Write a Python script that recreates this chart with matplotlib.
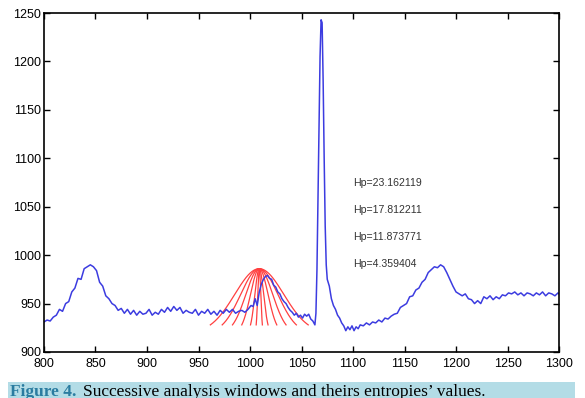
import numpy as np
import matplotlib
matplotlib.use("Agg")
import matplotlib.pyplot as plt

# blue signal
sig_x = [800, 803, 806, 809, 812, 815, 818, 821, 824, 827, 830, 833, 836, 839, 842, 845, 848, 851,
         854, 857, 860, 863, 866, 869, 872, 875, 878, 881, 884, 887, 890, 893, 896, 899, 902, 905,
         908, 911, 914, 917, 920, 923, 926, 929, 932, 935, 938, 941, 944, 947, 950, 953, 956, 959,
         962, 965, 968, 971, 974, 977, 980, 983, 986, 989, 992, 995, 998, 1001, 1003, 1005, 1007,
         1009, 1011, 1013, 1015, 1017, 1019, 1021, 1023, 1025, 1027, 1029, 1031, 1033, 1035, 1037,
         1039, 1041, 1043, 1045, 1047, 1049, 1051, 1053, 1055, 1057, 1059, 1061, 1063, 1064, 1065,
         1066, 1067, 1068, 1069, 1070, 1071, 1072, 1073, 1074, 1075, 1077, 1079, 1081, 1083, 1085,
         1087, 1089, 1091, 1093, 1095, 1097, 1099, 1101, 1103, 1105, 1107, 1110, 1113, 1116, 1119,
         1122, 1125, 1128, 1131, 1134, 1137, 1140, 1143, 1146, 1149, 1152, 1155, 1158, 1161, 1164,
         1167, 1170, 1173, 1176, 1179, 1182, 1185, 1188, 1191, 1194, 1197, 1200, 1203, 1206, 1209,
         1212, 1215, 1218, 1221, 1224, 1227, 1230, 1233, 1236, 1239, 1242, 1245, 1248, 1251, 1254,
         1257, 1260, 1263, 1266, 1269, 1272, 1275, 1278, 1281, 1284, 1287, 1290, 1293, 1296, 1299,
         1300]
sig_y = [931, 933, 932, 936, 938, 944, 942, 950, 952, 962, 966, 976, 975, 986, 988, 990, 988, 984,
         972, 968, 958, 955, 950, 948, 943, 945, 940, 944, 939, 943, 938, 942, 939, 940, 944, 938,
         941, 939, 944, 941, 946, 942, 947, 943, 946, 940, 943, 941, 940, 944, 938, 942, 940, 944,
         939, 942, 938, 943, 940, 944, 941, 944, 940, 942, 943, 941, 944, 948, 947, 955, 948,
         962, 970, 975, 978, 979, 976, 975, 969, 967, 962, 960, 955, 952, 950, 946,
         943, 941, 938, 940, 936, 938, 935, 939, 937, 939, 934, 932, 928, 940, 985,
         1060, 1140, 1205, 1243, 1240, 1180, 1100, 1030, 990, 975, 968, 955, 948, 944, 938,
         935, 930, 927, 922, 926, 923, 927, 922, 926, 924, 928, 927, 930, 928, 931,
         930, 933, 931, 935, 934, 937, 939, 940, 946, 948, 950, 957, 958, 964, 966,
         972, 975, 982, 985, 988, 987, 990, 988, 982, 975, 968, 962, 960, 958, 960,
         955, 954, 950, 953, 950, 957, 955, 958, 954, 957, 955, 959, 958, 961, 960,
         962, 959, 961, 958, 961, 960, 958, 961, 959, 962, 958, 961, 960, 958, 961,
         960]

# gaussian analysis windows (same centre, shrinking width)
win_center = 1009
win_half_widths = [47.5, 36, 26, 17, 8.5, 3]
win_base = 928
win_peak = 986

hp_labels = ["Hp=23.162119", "Hp=17.812211", "Hp=11.873771", "Hp=4.359404"]
hp_y = [1074.5, 1046.6, 1018.8, 990.9]
hp_x = 1100

plt.rcParams["font.family"] = ["Liberation Sans", "DejaVu Sans"]

fig = plt.figure(figsize=(5.85, 3.98), dpi=100)
ax = fig.add_axes([0.0752, 0.1156, 0.8804, 0.8517])

for hw in win_half_widths:
    t = np.linspace(-hw, hw, 200)
    sigma = hw / 2.0
    g = np.exp(-0.5 * (t / sigma) ** 2)
    g0 = np.exp(-0.5 * (hw / sigma) ** 2)
    g = (g - g0) / (1 - g0)
    ax.plot(win_center + t, win_base + (win_peak - win_base) * g, color="#ff4040", lw=0.9)

ax.plot(sig_x, sig_y, color="#3c3ce0", lw=1.1)

for lab, yy in zip(hp_labels, hp_y):
    ax.text(hp_x, yy, lab, fontsize=7.6, color="#333333", va="center", ha="left")

ax.set_xlim(800, 1300)
ax.set_ylim(900, 1250)
ax.set_xticks(range(800, 1301, 50))
ax.set_yticks(range(900, 1251, 50))
ax.tick_params(direction="in", top=True, right=True, length=4, width=1, labelsize=9)
ax.tick_params(axis="x", pad=4)
ax.tick_params(axis="y", pad=2)
for s in ax.spines.values():
    s.set_linewidth(1.2)

# caption band at the bottom
fig.patches.append(plt.Rectangle((8 / 585, 0), 567 / 585, 16 / 398, transform=fig.transFigure,
                                 facecolor="#b3dce6", edgecolor="none", zorder=0))
fig.text(10 / 585, 1 - 384 / 398, "Figure 4.", family="Liberation Serif", fontsize=12.5,
         fontweight="bold", color="#2a7ca0", va="top", ha="left")
fig.text(83 / 585, 1 - 384 / 398, "Successive analysis windows and theirs entropies\u2019 values.",
         family="Liberation Serif", fontsize=12.5, color="black", va="top", ha="left")

fig.savefig("out.png", dpi=100)
